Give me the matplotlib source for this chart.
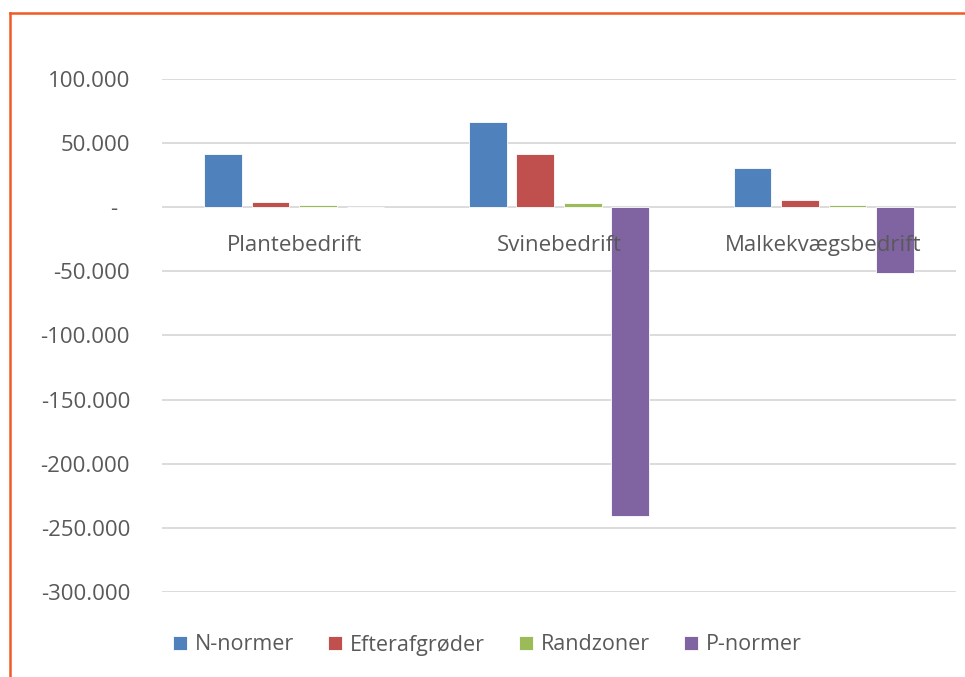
import numpy as np
import matplotlib.pyplot as plt
from matplotlib.lines import Line2D

# data (kr.)
categories = ['Plantebedrift', 'Svinebedrift', 'Malkekvægsbedrift']
series_names = ['N-normer', 'Efterafgrøder', 'Randzoner', 'P-normer']
n_normer = [41500, 66500, 30500]
efterafgroeder = [3800, 41500, 5500]
randzoner = [2000, 3700, 2000]
p_normer = [0, -240500, -51300]
yticks = [-300000, -250000, -200000, -150000, -100000, -50000, 0, 50000, 100000]

colors = ['#4F81BD', '#C0504D', '#9BBB59', '#8064A2']
text_col = '#595959'

plt.rcParams['font.family'] = ['Open Sans', 'DejaVu Sans']

W, H = 965, 677
fig = plt.figure(figsize=(W / 100, H / 100), dpi=100)
# plot area in pixels: x 162..956, y 79..592
ax = fig.add_axes([162/W, 1 - 592/H, (956 - 162)/W, (592 - 79)/H])

x = np.arange(len(categories)) + 0.5
step = 0.1795
width = 0.142
values = [n_normer, efterafgroeder, randzoner, p_normer]
for i, (name, vals) in enumerate(zip(series_names, values)):
    ax.bar(x + (i - 1.5) * step, vals, width, color=colors[i], label=name,
           edgecolor='white', linewidth=0.6, zorder=3)

ax.set_xlim(0, len(categories))
ax.set_ylim(-300000, 100000)
ax.set_yticks(yticks)

def fmt(v):
    if v == 0:
        return '-  '
    s = '{:,}'.format(abs(v)).replace(',', '.')
    return ('-' if v < 0 else '') + s

ax.set_yticklabels([fmt(v) for v in yticks], fontsize=16, color=text_col)
ax.tick_params(axis='y', length=0, pad=23)
ax.set_xticks([])
ax.yaxis.grid(True, color='#d9d9d9', linewidth=1.3, zorder=0)
ax.set_axisbelow(True)
for s in ax.spines.values():
    s.set_visible(False)

for xc, lab in zip(x, categories):
    ax.text(xc, -33900, lab, ha='center', va='baseline', fontsize=16,
            color=text_col, zorder=4)

leg = fig.legend(loc='center left', bbox_to_anchor=(173/W, 1 - 645/H),
                 ncol=4, frameon=False, fontsize=15.5, handlelength=0.65,
                 handleheight=0.65, handletextpad=0.35, columnspacing=1.6,
                 borderpad=0, borderaxespad=0)
for t in leg.get_texts():
    t.set_color(text_col)

# orange frame (left and top edges visible)
fig.add_artist(Line2D([10/W, 10/W], [0, 1 - 13/H], color='#F05A28',
                      linewidth=1.8, transform=fig.transFigure))
fig.add_artist(Line2D([10/W, 1], [1 - 13/H, 1 - 13/H], color='#F05A28',
                      linewidth=1.8, transform=fig.transFigure))

fig.savefig('out.png', dpi=100)
